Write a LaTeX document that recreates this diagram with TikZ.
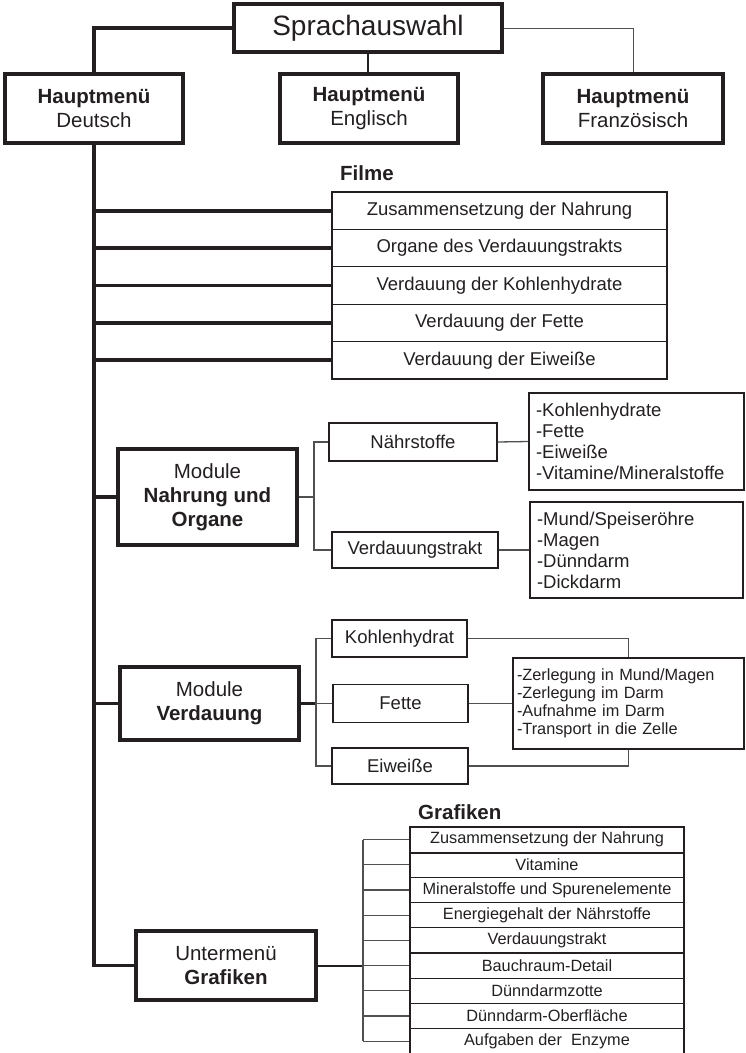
\documentclass[tikz,border=0pt]{standalone}
\usepackage{fontspec}
\setmainfont{Liberation Sans}
\definecolor{ink}{RGB}{35,31,32}
\definecolor{soft}{RGB}{80,80,80}
\newcommand\fsz[2]{\fontsize{#1}{#2}\selectfont}
\begin{document}
\begin{tikzpicture}[x=1pt,y=-1pt,
  bigbox/.style={draw=ink, line width=4.2pt, inner sep=0pt, align=center, text=ink},
  smallbox/.style={draw=ink, line width=1.3pt, inner sep=0pt, align=center, text=ink, font=\fsz{18.5}{21}},
  rowbox/.style={draw=ink, line width=1.1pt, inner sep=0pt, align=center, text=ink},
  listbox/.style={draw=ink, line width=1.3pt, inner ysep=0pt, align=left, text=ink},
  lbl/.style={anchor=west, inner sep=0pt, text=ink, font=\fsz{20.5}{24}\bfseries},
  trunk/.style={draw=ink, line width=3.8pt},
  midline/.style={draw=ink, line width=2pt},
  conn/.style={draw=soft, line width=1.3pt},
  hair/.style={draw=soft, line width=1pt}]
\useasboundingbox (0,0) rectangle (746,1053);

% --- top level
\node[bigbox, minimum width=268, minimum height=48, font=\fsz{28}{32}] (sprach) at (368,28) {Sprachauswahl};
\node[bigbox, minimum width=178, minimum height=69, font=\fsz{20.5}{24}] (deutsch) at (94,108.5) {\textbf{Hauptmenü}\\Deutsch};
\node[bigbox, minimum width=178, minimum height=69, font=\fsz{20.5}{24}] (engl) at (369,108.5) {\textbf{Hauptmenü}\\Englisch};
\node[bigbox, minimum width=180, minimum height=69, font=\fsz{20.5}{24}] (franz) at (633,108.5) {\textbf{Hauptmenü}\\Französisch};

\draw[trunk] (sprach.west) -| (deutsch.north);
\draw[midline] (sprach.south) -- (sprach.south |- engl.north);
\draw[hair] (sprach.east) -| (franz.north);

% --- Filme
\node[lbl] (filmelbl) at (340,173) {Filme};
\foreach \i/\t in {0/Zusammensetzung der Nahrung,1/Organe des Verdauungstrakts,2/Verdauung der Kohlenhydrate,3/Verdauung der Fette,4/Verdauung der Eiweiße}{
  \node[rowbox, minimum width=335, minimum height=37.4, font=\fsz{18.5}{21}] (f\i) at (499.5,{210.7+37.4*\i}) {\t};
}

% --- Module Nahrung und Organe
\node[bigbox, minimum width=179, minimum height=96, font=\fsz{20.5}{24}] (nahrung) at (207.5,497) {Module\\\textbf{Nahrung und}\\\textbf{Organe}};
\node[smallbox, minimum width=168, minimum height=38] (naehr) at (413,442) {Nährstoffe};
\node[smallbox, minimum width=166, minimum height=36] (vtrakt) at (415,550) {Verdauungstrakt};
\node[listbox, minimum width=215, minimum height=97, inner xsep=7pt, text width=201pt, font=\fsz{18.5}{21}] (nlist) at (636.5,441.5) {-Kohlenhydrate\\-Fette\\-Eiweiße\\-Vitamine/Mineralstoffe};
\node[listbox, minimum width=213, minimum height=96, inner xsep=7pt, text width=199pt, font=\fsz{18.5}{21}] (tlist) at (636.5,550) {-Mund/Speiseröhre\\-Magen\\-Dünndarm\\-Dickdarm};

\coordinate (nbr) at (314,497);
\draw[conn] (nahrung.east) -- (nbr);
\draw[conn] (nbr) |- (naehr.west);
\draw[conn] (nbr) |- (vtrakt.west);
\draw[conn] (naehr.east) -- (nlist.west);
\draw[conn] (vtrakt.east) -- (tlist.west);

% --- Module Verdauung
\node[bigbox, minimum width=179, minimum height=73, font=\fsz{20.5}{24}] (verd) at (209.5,703.5) {Module\\\textbf{Verdauung}};
\node[smallbox, minimum width=135, minimum height=37] (kohl) at (399.5,638.5) {Kohlenhydrat};
\node[smallbox, minimum width=135, minimum height=38] (fette) at (400.5,703.5) {Fette};
\node[smallbox, minimum width=136, minimum height=36] (eiw) at (400,766) {Eiweiße};
\node[listbox, minimum width=231, minimum height=91, inner xsep=4pt, text width=223pt, font=\fsz{16.3}{18}] (vlist) at (628.5,703.5) {-Zerlegung in Mund/Magen\\-Zerlegung im Darm\\-Aufnahme im Darm\\-Transport in die Zelle};

\coordinate (vbr) at (316,703.5);
\draw[trunk, line width=3pt] (verd.east) -- (vbr);
\draw[conn] (vbr) |- (kohl.west);
\draw[conn] (vbr) |- (eiw.west);
\draw[conn] (vbr) -- (fette.west);
\draw[conn] (kohl.east) -| (vlist.north);
\draw[conn] (eiw.east) -| (vlist.south);
\draw[conn] (fette.east) -- (vlist.west);

% --- Untermenü Grafiken
\node[bigbox, minimum width=180, minimum height=69, font=\fsz{20.5}{24}] (unter) at (226,965.5) {Untermenü\\\textbf{Grafiken}};
\node[lbl] (graflbl) at (418,812) {Grafiken};
\foreach \i/\t in {0/Zusammensetzung der Nahrung,1/Vitamine,2/Mineralstoffe und Spurenelemente,3/Energiegehalt der Nährstoffe,4/Verdauungstrakt,5/Bauchraum-Detail,6/Dünndarmzotte,7/Dünndarm-Oberfläche,8/Aufgaben der\ \ Enzyme}{
  \node[rowbox, minimum width=274, minimum height=25.2, font=\fsz{16.3}{18}] (g\i) at (547,{839.6+25.2*\i}) {\t};
}
\draw[ink, line width=2.4pt] (g0.south west) -- (g0.south east);

\coordinate (gbr) at (363,965.5);
\draw[midline] (unter.east) -- (gbr);
\draw[conn] (gbr |- g0.west) -- (gbr |- g8.west);
\foreach \i in {0,...,8}{
  \draw[conn] (gbr |- g\i.west) -- (g\i.west);
}

% --- main trunk
\draw[trunk] (deutsch.south) |- (unter.west);
\foreach \i in {0,...,4}{
  \draw[trunk] (deutsch.south |- f\i.west) -- (f\i.west);
}
\draw[trunk] (deutsch.south |- nahrung.west) -- (nahrung.west);
\draw[trunk] (deutsch.south |- verd.west) -- (verd.west);
\end{tikzpicture}
\end{document}
